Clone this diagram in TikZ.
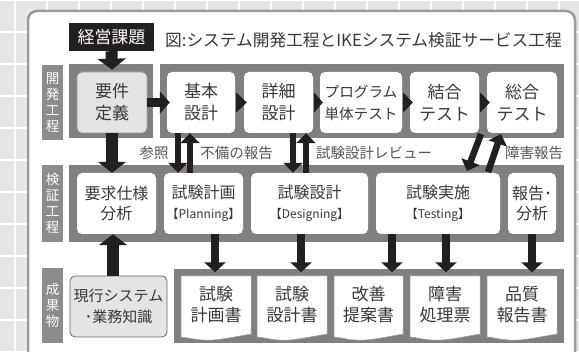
\documentclass[tikz,border=0pt]{standalone}
\usepackage{fontspec}
\setmainfont{Noto Sans CJK JP}
\usetikzlibrary{arrows.meta,calc}
\definecolor{bgc}{HTML}{E6E6E6}
\definecolor{panelc}{HTML}{9C9C9C}
\definecolor{bandc}{HTML}{808080}
\definecolor{labc}{HTML}{8C8C8C}
\definecolor{arrc}{HTML}{231F20}
\definecolor{txtc}{HTML}{383838}
\definecolor{lblc}{HTML}{555555}
\definecolor{lgray}{HTML}{E4E4E4}
\tikzset{
  wbox/.style={fill=white, rounded corners=5pt, inner sep=0pt, align=center, text=txtc,
     font=\fontsize{17}{22}\selectfont},
  gbox/.style={wbox, fill=lgray, draw=panelc, line width=0.6pt},
  rowlab/.style={fill=labc, text=white, inner sep=0pt, align=center, minimum width=21pt,
     font=\fontsize{13.5}{16}\selectfont},
  lbl/.style={text=lblc, inner sep=0pt, font=\fontsize{14.5}{16}\selectfont},
  bigarr/.style={draw=arrc, line width=12pt, -{Triangle[width=28pt,length=11pt]}},
  harr/.style={draw=arrc, line width=9pt, -{Triangle[width=22pt,length=10pt]}},
  medarr/.style={draw=arrc, line width=8pt, -{Triangle[width=21pt,length=10pt]}},
  sarr/.style={draw=arrc, line width=6.5pt, -{Triangle[width=19pt,length=10pt]}},
  doctext/.style={inner sep=0pt, align=center, text=txtc, font=\fontsize{17}{21}\selectfont},
  docpage/.style={fill=white, draw=panelc, line width=0.5pt},
}
\begin{document}
\begin{tikzpicture}[x=1pt,y=-1pt]
\useasboundingbox (0,0) rectangle (579,352);
% background grid
\fill[bgc] (0,0) rectangle (579,352);
\foreach \x in {15,47,...,579} \draw[white,line width=1.5pt] (\x,0) -- (\x,352);
\foreach \y in {0,32,...,352} \draw[white,line width=1.5pt] (0,\y) -- (579,\y);
% panel
\draw[draw=panelc, fill=white, line width=2.5pt, rounded corners=9pt] (28,11) rectangle (575,380);
% bands
\fill[bandc] (69,64) rectangle (153,138);
\fill[bandc] (160,64) rectangle (564,138);
\fill[bandc] (69,165) rectangle (564,242);
\fill[bandc] (174,269) rectangle (564,343);
% row labels
\node[rowlab, minimum height=75pt] (l1) at (52.5,102.5) {開\\発\\工\\程};
\node[rowlab, minimum height=77pt] (l2) at (52.5,203.5) {検\\証\\工\\程};
\node[rowlab, minimum height=75pt] (l3) at (52.5,305.5) {成\\果\\物};
% header
\node[fill=arrc, text=white, inner sep=0pt, minimum width=85pt, minimum height=28pt,
  font=\fontsize{17}{20}\selectfont] (hdr) at (111.5,37) {経営課題};
\node[anchor=west, inner sep=0pt, text=txtc, font=\fontsize{16.7}{20}\selectfont] (title) at (165,40)
  {図:システム開発工程とIKEシステム検証サービス工程};
% row 1
\node[gbox, minimum width=70pt, minimum height=61pt] (req) at (112,102.5) {要件\\定義};
\node[wbox, minimum width=68pt, minimum height=61pt] (kihon) at (201,102.5) {基本\\設計};
\node[wbox, minimum width=69pt, minimum height=61pt] (shosai) at (278.5,102.5) {詳細\\設計};
\node[wbox, minimum width=82pt, minimum height=61pt, font=\fontsize{14.6}{22}\selectfont] (prog) at (361,102.5) {プログラム\\単体テスト};
\node[wbox, minimum width=69pt, minimum height=61pt] (ketsu) at (444.5,102.5) {結合\\テスト};
\node[wbox, minimum width=70pt, minimum height=61pt] (sogo) at (522,102.5) {総合\\テスト};
% row 2
\node[wbox, minimum width=79pt, minimum height=61pt, font=\fontsize{16}{20}\selectfont] (yokyu) at (116.5,203.5) {要求仕様\\分析};
\node[wbox, minimum width=79pt, minimum height=61pt, font=\fontsize{16}{20}\selectfont] (plan) at (203.5,203.5) {試験計画\\{\fontsize{12}{13}\selectfont【Planning】}};
\node[wbox, minimum width=117pt, minimum height=61pt, font=\fontsize{16}{20}\selectfont] (design) at (309.5,203.5) {試験設計\\{\fontsize{12}{13}\selectfont【Designing】}};
\node[wbox, minimum width=124pt, minimum height=61pt, font=\fontsize{16}{20}\selectfont] (testing) at (438,203.5) {試験実施\\{\fontsize{12}{13}\selectfont【Testing】}};
\node[wbox, minimum width=48pt, minimum height=61pt, font=\fontsize{16}{20}\selectfont] (report) at (532,203.5) {報告･\\分析};
% row 3
\node[gbox, draw=black!60, line width=0.8pt, minimum width=97pt, minimum height=61pt, font=\fontsize{15}{21}\selectfont] (genko) at (118.5,306.5) {現行システム\\･業務知識};
\foreach \a/\b/\n/\t in {181/251/d1/{試験\\計画書}, 257/327/d2/{試験\\設計書}, 334/403/d3/{改善\\提案書}, 410/480/d4/{障害\\処理票}, 487/557/d5/{品質\\報告書}} {
  \path[docpage] (\a,276) -- (\b,276) -- (\b,334)
     .. controls ({\a+0.7*(\b-\a)},337.5) and ({\a+0.5*(\b-\a)},341) .. ({\a+0.32*(\b-\a)},340)
     .. controls ({\a+0.18*(\b-\a)},339.5) and ({\a+0.06*(\b-\a)},337) .. (\a,337) -- cycle;
  \node[doctext, minimum width={\b-\a}, minimum height=61pt] (\n) at ({(\a+\b)/2},305) {\t};
}
% triangles between row-1 boxes
\foreach \p/\q in {kihon/shosai, shosai/prog, prog/ketsu, ketsu/sogo}
  \fill[arrc] ($(\p.east)+(1,-10)$) -- ($(\q.west)+(3,0)$) -- ($(\p.east)+(1,10)$) -- cycle;
% column coordinates
\coordinate (cA) at (178,0);
\coordinate (cB) at (190,0);
\coordinate (cC) at (293,0);
\coordinate (cD) at (306,0);
\coordinate (cG) at (113,0);
\coordinate (cP) at (215,0);
\coordinate (cQ) at (301,0);
\coordinate (cR) at (392,0);
\coordinate (cS) at (446,0);
\coordinate (cT) at (532,0);
\coordinate (g1) at (481,134);
\coordinate (g2) at (467,171);
\coordinate (g3) at (488,172);
\coordinate (g4) at (501,134);
% arrows
\draw[bigarr] (hdr.south) -- ($(req.north)+(0,-2)$);
\draw[harr] (req.east) -- ($(kihon.west)+(3,0)$);
\draw[bigarr] (req.south) -- (req.south |- yokyu.north);
\draw[bigarr] (genko.north -| cG) -- (yokyu.south -| cG);
\draw[sarr] (kihon.south -| cA) -- (plan.north -| cA);
\draw[sarr] (plan.north -| cB) -- (kihon.south -| cB);
\draw[sarr] (shosai.south -| cC) -- (design.north -| cC);
\draw[sarr] (design.north -| cD) -- (shosai.south -| cD);
\draw[sarr] (g1) -- (g2);
\draw[sarr] (g3) -- (g4);
\draw[medarr] (plan.south -| cP) -- ($(d1.north -| cP)+(0,-2)$);
\draw[medarr] (design.south -| cQ) -- ($(d2.north -| cQ)+(0,-2)$);
\draw[medarr] (testing.south -| cR) -- ($(d3.north -| cR)+(0,-2)$);
\draw[medarr] (testing.south -| cS) -- ($(d4.north -| cS)+(0,-2)$);
\draw[medarr] (report.south -| cT) -- ($(d5.north -| cT)+(0,-2)$);
% labels
\node[lbl] (t1) at (154,153) {参照};
\node[lbl] (t2) at (236.5,153) {不備の報告};
\node[lbl] (t3) at (374,153) {試験設計レビュー};
\node[lbl] (t4) at (534,153) {障害報告};
\end{tikzpicture}
\end{document}
